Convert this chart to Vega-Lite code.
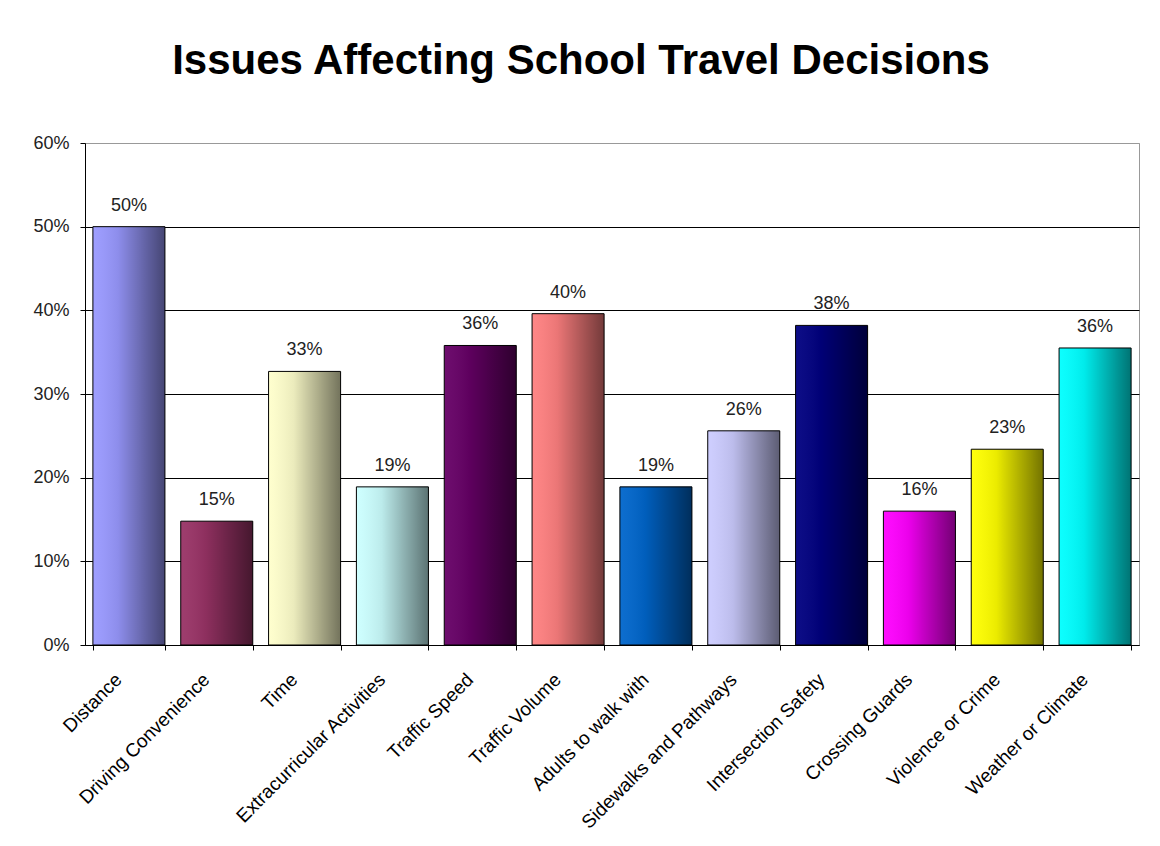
{
  "$schema": "https://vega.github.io/schema/vega-lite/v6.json",
  "autosize": "none",
  "width": 1054,
  "height": 502,
  "padding": {"left": 85, "top": 143, "right": 21, "bottom": 201},
  "background": "white",
  "title": {
    "text": "Issues Affecting School Travel Decisions",
    "font": "Liberation Sans",
    "fontSize": 42,
    "fontWeight": "bold",
    "color": "black",
    "anchor": "middle",
    "dx": -31,
    "offset": 51
  },
  "data": {
    "values": [
      {"issue": "Distance", "pct": 0.500},
      {"issue": "Driving Convenience", "pct": 0.148},
      {"issue": "Time", "pct": 0.327},
      {"issue": "Extracurricular Activities", "pct": 0.189},
      {"issue": "Traffic Speed", "pct": 0.358},
      {"issue": "Traffic Volume", "pct": 0.396},
      {"issue": "Adults to walk with", "pct": 0.189},
      {"issue": "Sidewalks and Pathways", "pct": 0.256},
      {"issue": "Intersection Safety", "pct": 0.382},
      {"issue": "Crossing Guards", "pct": 0.160},
      {"issue": "Violence or Crime", "pct": 0.234},
      {"issue": "Weather or Climate", "pct": 0.355}
    ]
  },
  "encoding": {
    "x": {
      "field": "issue",
      "type": "nominal",
      "sort": null,
      "scale": {"paddingInner": 0.18, "paddingOuter": 0.09},
      "axis": {
        "title": null,
        "labelAngle": -45,
        "labelAlign": "right",
        "labelBaseline": "top",
        "labelFont": "Liberation Sans",
        "labelFontSize": 19,
        "labelColor": "black",
        "labelPadding": 20,
        "labelOffset": -17,
        "labelLimit": 400,
        "tickBand": "extent",
        "tickSize": 5,
        "tickColor": "black",
        "domainColor": "black",
        "grid": false
      }
    },
    "y": {
      "field": "pct",
      "type": "quantitative",
      "scale": {"domain": [0, 0.6], "nice": false},
      "axis": {
        "title": null,
        "values": [0, 0.1, 0.2, 0.3, 0.4, 0.5, 0.6],
        "format": ".0%",
        "labelFont": "Liberation Sans",
        "labelFontSize": 18,
        "labelColor": "#222222",
        "labelPadding": 11,
        "tickSize": 5,
        "tickColor": "black",
        "domainColor": "black",
        "grid": true,
        "gridColor": {"condition": {"test": "datum.value >= 0.6", "value": "#999999"}, "value": "black"},
        "gridOpacity": 1
      }
    }
  },
  "layer": [
    {
      "mark": {"type": "bar"},
      "encoding": {
        "color": {
          "field": "issue",
          "type": "nominal",
          "legend": null,
          "scale": {
            "domain": ["Distance", "Driving Convenience", "Time", "Extracurricular Activities", "Traffic Speed", "Traffic Volume", "Adults to walk with", "Sidewalks and Pathways", "Intersection Safety", "Crossing Guards", "Violence or Crime", "Weather or Climate"],
            "range": ["#9999FF", "#993366", "#FFFFCC", "#CCFFFF", "#660066", "#FF8080", "#0066CC", "#CCCCFF", "#000080", "#FF00FF", "#FFFF00", "#00FFFF"]
          }
        }
      }
    },
    {
      "mark": {
        "type": "bar",
        "stroke": "black",
        "strokeWidth": 1,
        "fill": {
          "gradient": "linear",
          "x1": 0, "y1": 0, "x2": 1, "y2": 0,
          "stops": [
            {"offset": 0, "color": "rgba(255,255,255,0.05)"},
            {"offset": 0.35, "color": "rgba(0,0,0,0.08)"},
            {"offset": 1, "color": "rgba(0,0,0,0.55)"}
          ]
        }
      }
    },
    {
      "mark": {
        "type": "text",
        "baseline": "bottom",
        "dy": -12,
        "font": "Liberation Sans",
        "fontSize": 18,
        "color": "#222222"
      },
      "encoding": {
        "text": {"field": "pct", "type": "quantitative", "format": ".0%"}
      }
    }
  ],
  "config": {
    "view": {"stroke": "#999999", "strokeWidth": 1}
  }
}
